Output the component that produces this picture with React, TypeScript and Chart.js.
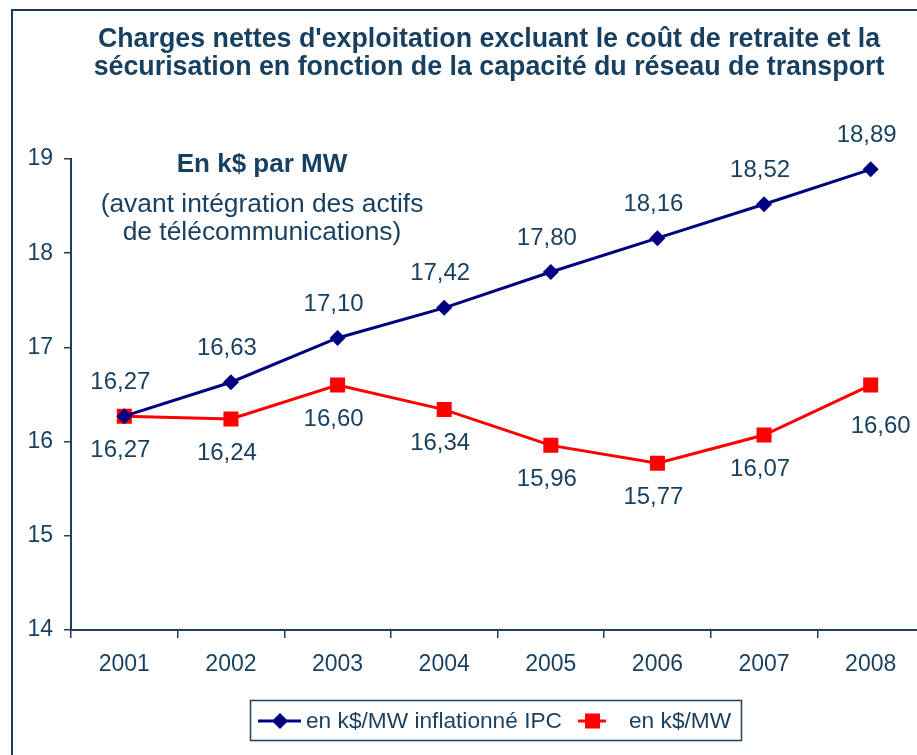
import React, { useEffect, useRef } from "react";
import { Chart, registerables } from "chart.js";

Chart.register(...registerables);

const years = ["2001", "2002", "2003", "2004", "2005", "2006", "2007", "2008"];
const inflatedValues = [16.27, 16.63, 17.1, 17.42, 17.8, 18.16, 18.52, 18.89];
const nominalValues = [16.27, 16.24, 16.6, 16.34, 15.96, 15.77, 16.07, 16.6];
const seriesNames = ["en k$/MW inflationné IPC", "en k$/MW"];
const titleLines = [
  "Charges nettes d'exploitation excluant le coût de retraite et la",
  "sécurisation en fonction de la capacité du réseau de transport",
];
const noteBold = "En k$ par MW";
const noteLines = ["(avant intégration des actifs", "de télécommunications)"];
const yMin = 14;
const yMax = 19;

const TEXT = "#173f5f";
const AXIS = "#1f3f5f";
const BLUE = "#000080";
const RED = "#ff0000";
const FONT = "'Liberation Sans', Arial, sans-serif";

const fmt = (v: number) => v.toFixed(2).replace(".", ",");

const decorPlugin = {
  id: "decor",
  beforeDraw(chart: any) {
    const ctx = chart.ctx;
    ctx.save();
    ctx.fillStyle = "#ffffff";
    ctx.fillRect(0, 0, chart.width, chart.height);
    ctx.strokeStyle = "#1b3a5c";
    ctx.lineWidth = 2;
    ctx.strokeRect(12, 10, chart.width + 50, chart.height + 50);
    ctx.restore();
  },
  afterDraw(chart: any) {
    const ctx = chart.ctx;
    ctx.save();
    ctx.fillStyle = TEXT;
    ctx.textAlign = "center";
    ctx.textBaseline = "middle";
    ctx.font = `bold 26.8px ${FONT}`;
    ctx.fillText(titleLines[0], 489, 40);
    ctx.fillText(titleLines[1], 489, 68);

    ctx.font = `bold 26px ${FONT}`;
    ctx.fillText(noteBold, 262, 165);
    ctx.font = `26.4px ${FONT}`;
    ctx.fillText(noteLines[0], 262, 205);
    ctx.fillText(noteLines[1], 262, 233);

    // legend
    ctx.strokeStyle = AXIS;
    ctx.lineWidth = 1.5;
    ctx.strokeRect(250.5, 700.5, 491, 40);
    const ly = 721;
    ctx.lineWidth = 3;
    ctx.strokeStyle = BLUE;
    ctx.beginPath();
    ctx.moveTo(258, ly);
    ctx.lineTo(301, ly);
    ctx.stroke();
    ctx.fillStyle = BLUE;
    ctx.beginPath();
    ctx.moveTo(280, ly - 8);
    ctx.lineTo(288, ly);
    ctx.lineTo(280, ly + 8);
    ctx.lineTo(272, ly);
    ctx.closePath();
    ctx.fill();
    ctx.strokeStyle = RED;
    ctx.beginPath();
    ctx.moveTo(578, ly);
    ctx.lineTo(606, ly);
    ctx.stroke();
    ctx.fillStyle = RED;
    ctx.fillRect(585, ly - 7.5, 15, 15);
    ctx.fillStyle = TEXT;
    ctx.textAlign = "left";
    ctx.font = `22.7px ${FONT}`;
    ctx.fillText(seriesNames[0], 306, ly + 1);
    ctx.fillText(seriesNames[1], 629, ly + 1);

    // data labels
    ctx.textAlign = "center";
    ctx.font = `24px ${FONT}`;
    chart.data.datasets.forEach((ds: any, di: number) => {
      const meta = chart.getDatasetMeta(di);
      meta.data.forEach((pt: any, i: number) => {
        const v = ds.data[i];
        let dx = -4;
        let dy = di === 0 ? -34 : 34;
        if (di === 1 && i === ds.data.length - 1) {
          dx = 10;
          dy = 41;
        }
        ctx.fillText(fmt(v), pt.x + dx, pt.y + dy);
      });
    });
    ctx.restore();
  },
};

export default function App() {
  const ref = useRef<HTMLCanvasElement | null>(null);
  useEffect(() => {
    if (!ref.current) return;
    const chart = new Chart(ref.current, {
      type: "line",
      data: {
        labels: years,
        datasets: [
          {
            label: seriesNames[0],
            data: inflatedValues,
            borderColor: BLUE,
            backgroundColor: BLUE,
            borderWidth: 3,
            pointStyle: "rectRot",
            pointRadius: 8,
            pointBorderWidth: 0,
            tension: 0,
          },
          {
            label: seriesNames[1],
            data: nominalValues,
            borderColor: RED,
            backgroundColor: RED,
            borderWidth: 3,
            pointStyle: "rect",
            pointRadius: 10.6,
            pointBorderWidth: 0,
            tension: 0,
          },
        ],
      },
      options: {
        responsive: false,
        animation: false,
        devicePixelRatio: 1,
        layout: { padding: { top: 159, left: 0, right: 11, bottom: 0 } },
        plugins: {
          legend: { display: false },
          title: { display: false },
          tooltip: { enabled: false },
        },
        scales: {
          x: {
            offset: true,
            grid: {
              display: true,
              drawOnChartArea: false,
              drawTicks: true,
              tickLength: 8,
              offset: true,
              color: AXIS,
              lineWidth: 1.5,
            },
            border: { display: true, color: AXIS, width: 2 },
            ticks: {
              color: TEXT,
              font: { family: FONT, size: 23 },
              padding: 13,
              maxRotation: 0,
            },
            afterFit: (s: any) => {
              s.height = 125;
            },
          },
          y: {
            min: yMin,
            max: yMax,
            ticks: {
              stepSize: 1,
              color: TEXT,
              font: { family: FONT, size: 23 },
              padding: 11,
            },
            grid: {
              display: true,
              drawOnChartArea: false,
              drawTicks: true,
              tickLength: 7,
              color: AXIS,
              lineWidth: 1.5,
            },
            border: { display: true, color: AXIS, width: 2 },
            afterFit: (s: any) => {
              s.width = 71;
            },
          },
        },
      },
      plugins: [decorPlugin],
    });
    return () => chart.destroy();
  }, []);
  return (
    <div
      style={{
        position: "absolute",
        left: 0,
        top: 0,
        width: 917,
        height: 755,
        overflow: "hidden",
        background: "#fff",
      }}
    >
      <canvas ref={ref} width={935} height={755} style={{ width: 935, height: 755, display: "block" }} />
    </div>
  );
}
